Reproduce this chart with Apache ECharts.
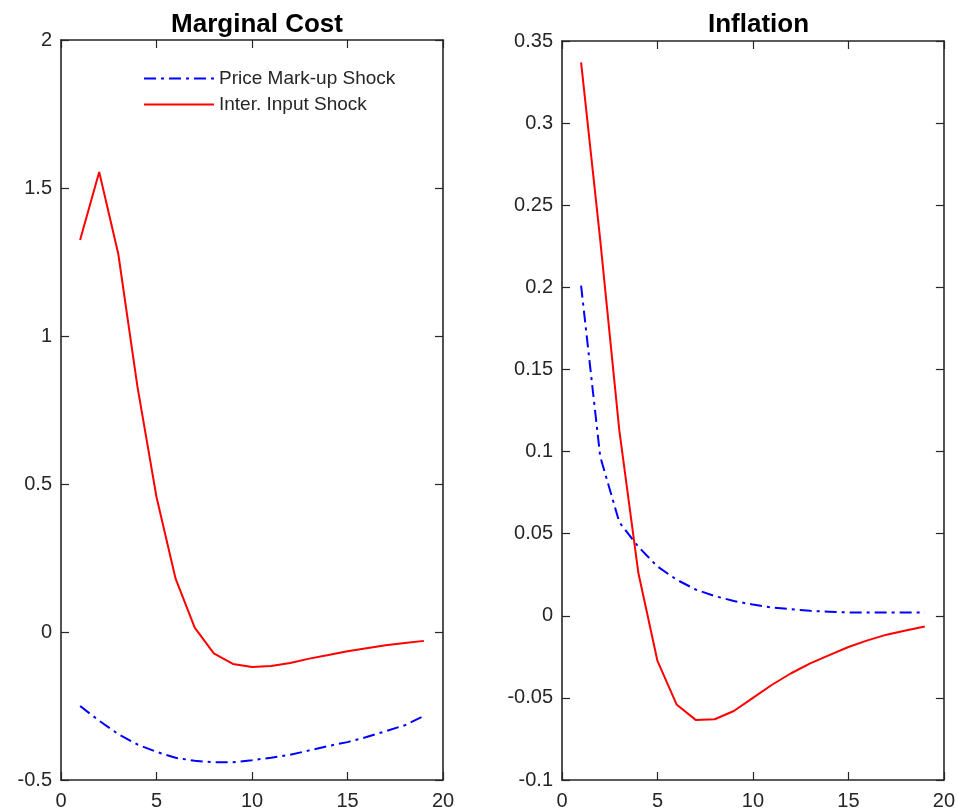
<!DOCTYPE html>
<html><head><meta charset="utf-8">
<script src="https://cdn.jsdelivr.net/npm/echarts@6/dist/echarts.min.js"></script>
<style>html,body{margin:0;padding:0;background:#fff;}#c{width:958px;height:811px;}</style>
</head><body><div id="c"></div>
<script>
const periods = [1,2,3,4,5,6,7,8,9,10,11,12,13,14,15,16,17,18,19];
const mcMarkup = [-0.25,-0.30,-0.345,-0.38,-0.405,-0.425,-0.435,-0.44,-0.44,-0.433,-0.425,-0.415,-0.40,-0.385,-0.372,-0.355,-0.335,-0.315,-0.284];
const mcInput = [1.324,1.554,1.277,0.83,0.456,0.18,0.015,-0.072,-0.108,-0.118,-0.115,-0.105,-0.09,-0.078,-0.065,-0.055,-0.045,-0.037,-0.03];
const infMarkup = [0.201,0.097,0.057,0.042,0.030,0.022,0.016,0.012,0.009,0.0068,0.005,0.004,0.003,0.0025,0.002,0.002,0.002,0.002,0.002];
const infInput = [0.337,0.229,0.113,0.026,-0.0275,-0.054,-0.0634,-0.063,-0.058,-0.050,-0.042,-0.035,-0.029,-0.024,-0.019,-0.015,-0.0115,-0.009,-0.0065];
const titles = ['Marginal Cost','Inflation'];
const seriesNames = ['Price Mark-up Shock','Inter. Input Shock'];
const xTicks = {min:0,max:20,interval:5};
const yLeft = {min:-0.5,max:2,interval:0.5};
const yRight = {min:-0.1,max:0.35,interval:0.05};

const pair = ys => periods.map((x,i)=>[x,ys[i]]);
const FONT = '"Liberation Sans", Arial, Helvetica, sans-serif';
const axisCol = '#262626';
const grids = [
  {left:61, top:40, width:382, height:740},
  {left:562, top:41, width:383, height:739}
];
function xAx(gi, pos, show){
  return {type:'value', gridIndex:gi, position:pos, min:xTicks.min, max:xTicks.max, interval:xTicks.interval,
    axisLine:{show:true, onZero:false, lineStyle:{color:axisCol, width:1.6}},
    axisTick:{show:true, inside:true, length:8, lineStyle:{color:axisCol, width:1.2}},
    axisLabel:{show:show, color:axisCol, fontSize:20, fontFamily:FONT, margin:11},
    splitLine:{show:false}};
}
function yAx(gi, pos, show, r){
  return {type:'value', gridIndex:gi, position:pos, min:r.min, max:r.max, interval:r.interval,
    axisLine:{show:true, onZero:false, lineStyle:{color:axisCol, width:1.6}},
    axisTick:{show:true, inside:true, length:8, lineStyle:{color:axisCol, width:1.2}},
    axisLabel:{show:show, color:axisCol, fontSize:20, fontFamily:FONT, margin:9,
      formatter: v => String(+v.toFixed(4))},
    splitLine:{show:false}};
}
const dashDot = [12,5,3,5];
const option = {
  animation:false,
  backgroundColor:'#fff',
  title: titles.map((t,i)=>({text:t, left: grids[i].left + grids[i].width/2, textAlign:'center', top:7,
    textStyle:{fontSize:26, fontWeight:'bold', color:'#000', fontFamily:FONT}})),
  legend:{data:seriesNames, orient:'vertical', left:143, top:69, padding:0, itemWidth:70, itemHeight:20, itemGap:7,
    itemStyle:{opacity:0},
    textStyle:{fontSize:19, color:axisCol, fontFamily:FONT}},
  grid: grids,
  xAxis:[xAx(0,'bottom',true), xAx(0,'top',false), xAx(1,'bottom',true), xAx(1,'top',false)],
  yAxis:[yAx(0,'left',true,yLeft), yAx(0,'right',false,yLeft), yAx(1,'left',true,yRight), yAx(1,'right',false,yRight)],
  series:[
    {name:seriesNames[0], type:'line', xAxisIndex:0, yAxisIndex:0, data:pair(mcMarkup), symbol:'none',
      lineStyle:{color:'#0000ff', width:2, type:dashDot}, itemStyle:{color:'#0000ff'}},
    {name:seriesNames[1], type:'line', xAxisIndex:0, yAxisIndex:0, data:pair(mcInput), symbol:'none',
      lineStyle:{color:'#ff0000', width:2}, itemStyle:{color:'#ff0000'}},
    {name:seriesNames[0], type:'line', xAxisIndex:2, yAxisIndex:2, data:pair(infMarkup), symbol:'none',
      lineStyle:{color:'#0000ff', width:2, type:dashDot}, itemStyle:{color:'#0000ff'}},
    {name:seriesNames[1], type:'line', xAxisIndex:2, yAxisIndex:2, data:pair(infInput), symbol:'none',
      lineStyle:{color:'#ff0000', width:2}, itemStyle:{color:'#ff0000'}}
  ]
};
const chart = echarts.init(document.getElementById('c'), null, {renderer:'canvas'});
chart.setOption(option);
</script></body></html>
